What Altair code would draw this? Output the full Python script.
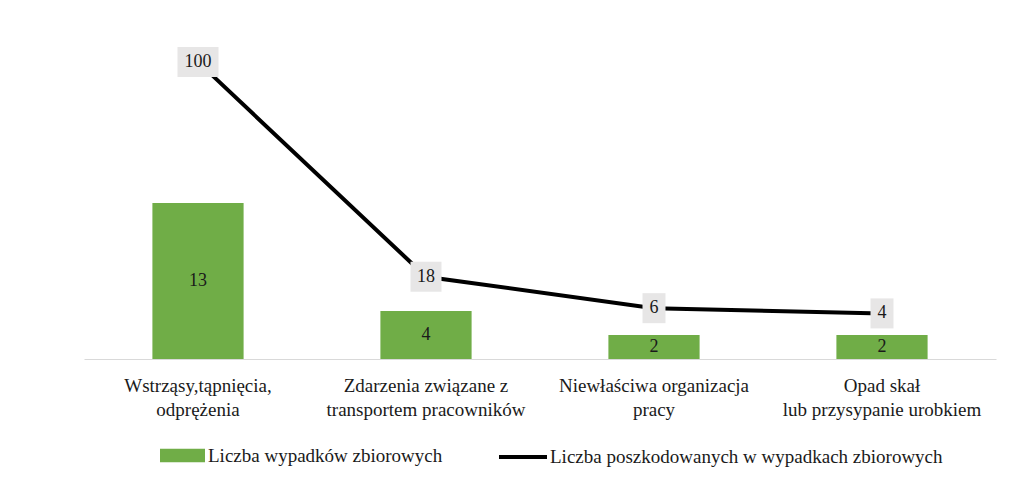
import altair as alt
import pandas as pd

categories = [
    "Wstrząsy,tąpnięcia,\nodprężenia",
    "Zdarzenia związane z\ntransportem pracowników",
    "Niewłaściwa organizacja\npracy",
    "Opad skał\nlub przysypanie urobkiem",
]
accidents = [13, 4, 2, 2]
victims = [100, 18, 6, 4]
series_bar = "Liczba wypadków zbiorowych"
series_line = "Liczba poszkodowanych w wypadkach zbiorowych"

df = pd.DataFrame({
    "cat": categories,
    "accidents": accidents,
    "victims": victims,
    "s1": series_bar,
    "s2": series_line,
})

FONT = "Liberation Serif"
FS = 19
W, H = 912, 339
bar_dom = [0, H / 12.0]
line_dom = [-13.4, -13.4 + H / 2.62]

xenc = alt.X(
    "cat:N", sort=categories, title=None,
    scale=alt.Scale(paddingInner=0.6, paddingOuter=0.3),
    axis=alt.Axis(
        labelExpr="split(datum.label, '\\n')",
        labelAngle=0, ticks=False, domainColor="#d9d9d9", domainWidth=1,
        labelFont=FONT, labelFontSize=FS, labelColor="#1a1a1a", labelLimit=0,
        labelLineHeight=24, labelPadding=17, labelBaseline="top",
    ),
)

base = alt.Chart(df)

bars = base.mark_bar(color="#70ad47").encode(
    x=xenc,
    y=alt.Y("accidents:Q", scale=alt.Scale(domain=bar_dom), axis=None),
    color=alt.Color(
        "s1:N",
        scale=alt.Scale(range=["#70ad47"]),
        legend=alt.Legend(
            title=None, orient="none", legendX=76, legendY=413, padding=0,
            symbolType="M-1,-0.3H1V0.3H-1Z", symbolSize=2025, symbolStrokeWidth=0,
            labelFont=FONT, labelFontSize=FS, labelColor="#1a1a1a", labelOffset=3,
            labelLimit=0,
        ),
    ),
)
bar_text = base.mark_text(font=FONT, fontSize=18, color="#1a1a1a", baseline="middle").transform_calculate(
    mid="datum.accidents / 2"
).encode(
    x=alt.X("cat:N", sort=categories),
    y=alt.Y("mid:Q", scale=alt.Scale(domain=bar_dom), axis=None),
    text="accidents:Q",
)

yline = alt.Y("victims:Q", scale=alt.Scale(domain=line_dom), axis=None)
line = base.mark_line(strokeWidth=4).encode(
    x=alt.X("cat:N", sort=categories),
    y=yline,
    stroke=alt.Stroke(
        "s2:N",
        scale=alt.Scale(range=["#000000"]),
        legend=alt.Legend(
            title=None, orient="none", legendX=413, legendY=411, padding=0,
            symbolType="stroke", symbolSize=2304, symbolStrokeWidth=4,
            labelFont=FONT, labelFontSize=FS, labelColor="#1a1a1a", labelOffset=1,
            labelLimit=0,
        ),
    ),
)

def box(nchar, w):
    return base.mark_rect(color="#e7e6e6", width=w, height=30).transform_calculate(
        n="length(toString(datum.victims))"
    ).transform_filter(f"datum.n == {nchar}").encode(
        x=alt.X("cat:N", sort=categories),
        y=yline,
    )

line_text = base.mark_text(font=FONT, fontSize=18, color="#1a1a1a", baseline="middle").encode(
    x=alt.X("cat:N", sort=categories),
    y=yline,
    text="victims:Q",
)

chart = alt.layer(
    alt.layer(bars, bar_text),
    alt.layer(line, box(3, 41), box(2, 31), box(1, 23), line_text),
).resolve_scale(y="independent").properties(
    width=W, height=H,
    autosize=alt.AutoSizeParams(type="none"),
    padding={"left": 76, "top": 12, "right": 20, "bottom": 120},
).configure_view(stroke=None)

chart.save("out.html", embed_options={"renderer": "svg", "actions": False})
